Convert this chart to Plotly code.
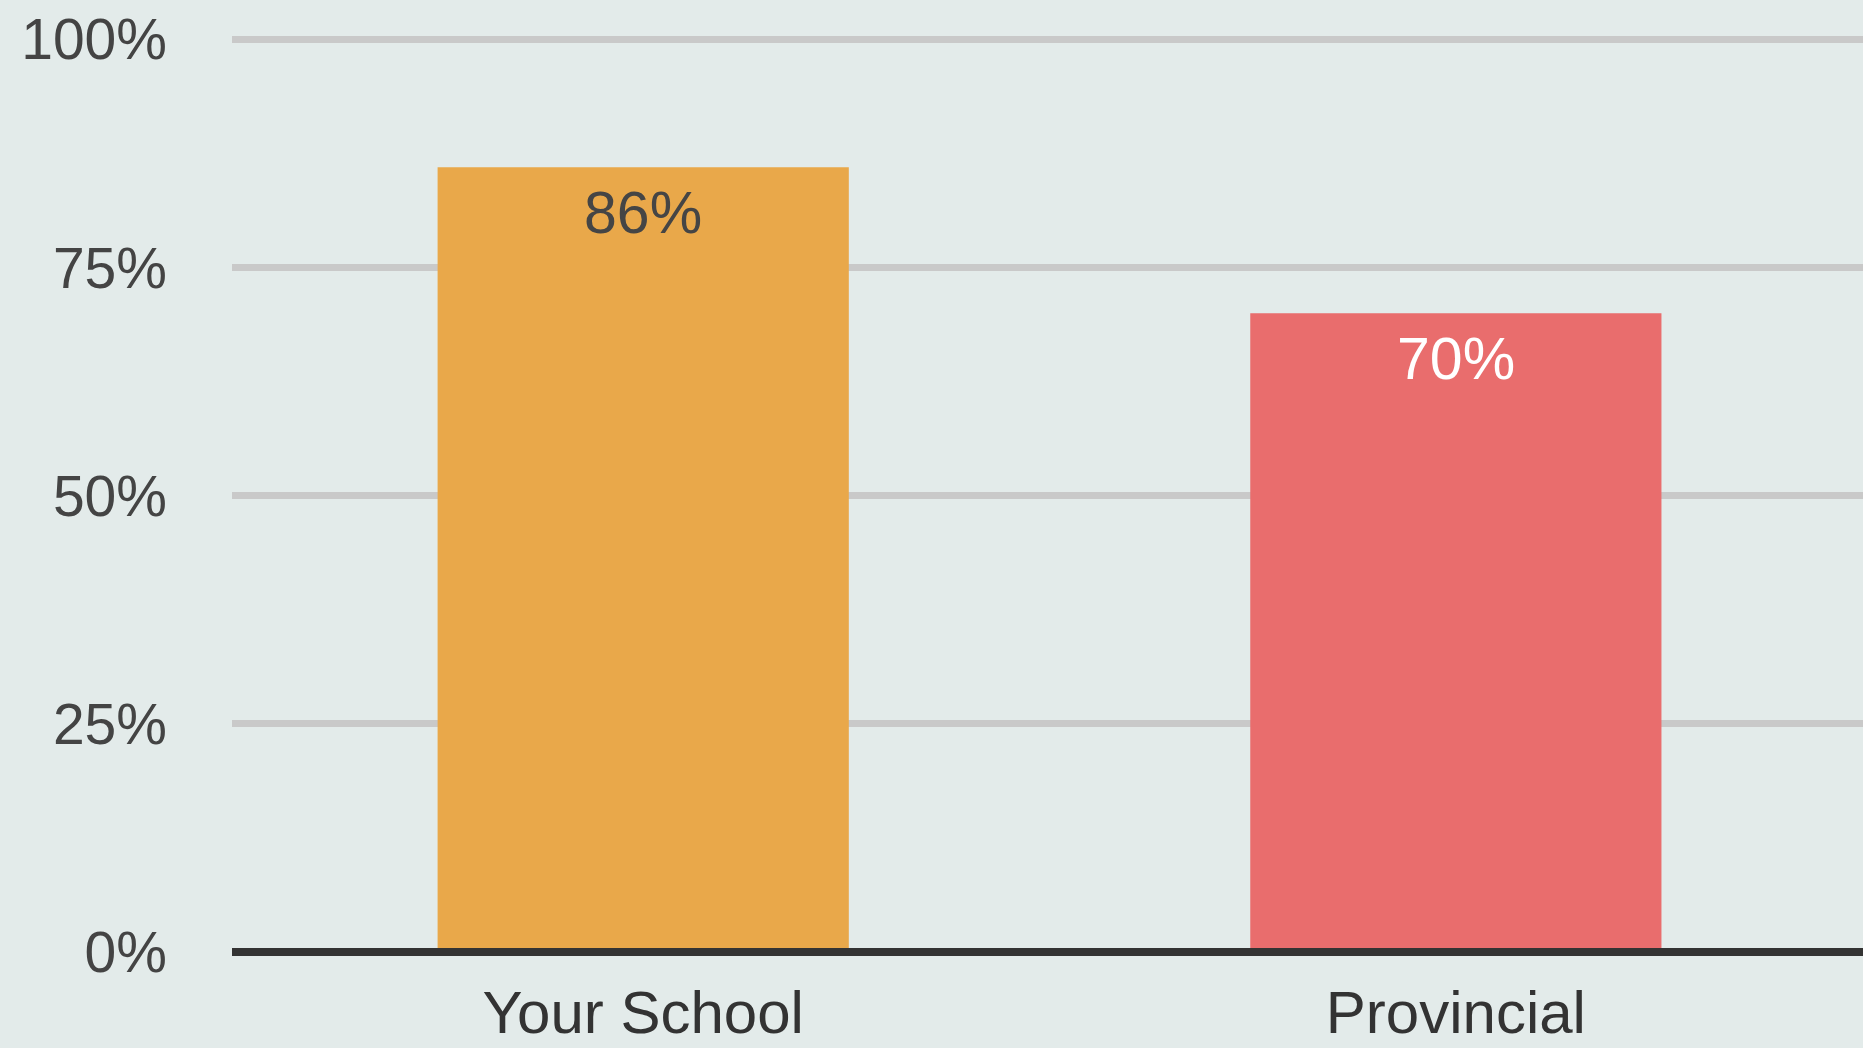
import plotly.graph_objects as go

categories = ["Your School", "Provincial"]
values = [86, 70]
bar_colors = ["#E9A84A", "#E96D6D"]
label_colors = ["#454545", "#FFFFFF"]
y_ticks = [0, 25, 50, 75, 100]
y_tick_labels = ["0%", "25%", "50%", "75%", "100%"]

BG = "#E3EBEA"
FONT = "Arial, Liberation Sans, sans-serif"

fig = go.Figure()

fig.add_trace(go.Bar(
    x=categories,
    y=values,
    marker_color=bar_colors,
    marker_line_width=0,
    width=0.506,
    hoverinfo="skip",
))

# value labels just inside the top of each bar
for cat, val, col in zip(categories, values, label_colors):
    fig.add_annotation(
        x=cat, y=val, text=f"{val}%",
        showarrow=False, yanchor="top", yshift=-11,
        font=dict(family=FONT, size=59, color=col),
    )

# dark baseline drawn above the bars (paper refs so it is not clipped)
fig.add_shape(
    type="line", xref="paper", x0=0, x1=1, yref="paper", y0=0, y1=0,
    line=dict(color="#333333", width=8), layer="above",
)

fig.update_layout(
    width=1863,
    height=1048,
    paper_bgcolor=BG,
    plot_bgcolor=BG,
    showlegend=False,
    margin=dict(l=232, r=0, t=34, b=96),
    font=dict(family=FONT, size=56, color="#444444"),
    xaxis=dict(
        range=[-0.506, 1.501],
        showgrid=False,
        zeroline=False,
        showline=False,
        tickfont=dict(size=60, color="#333333"),
        ticklabelstandoff=20,
    ),
    yaxis=dict(
        range=[0, 100.6],
        tickvals=y_ticks,
        ticktext=y_tick_labels,
        showgrid=True,
        gridcolor="#C9C9C9",
        gridwidth=7,
        zeroline=False,
        showline=False,
        ticklabelstandoff=64,
        tickfont=dict(size=57, color="#444444"),
    ),
)

fig.write_html(
    "out.html",
    config={"displayModeBar": False},
    post_script="document.body.style.margin='0';document.body.style.background='%s';" % BG,
)
